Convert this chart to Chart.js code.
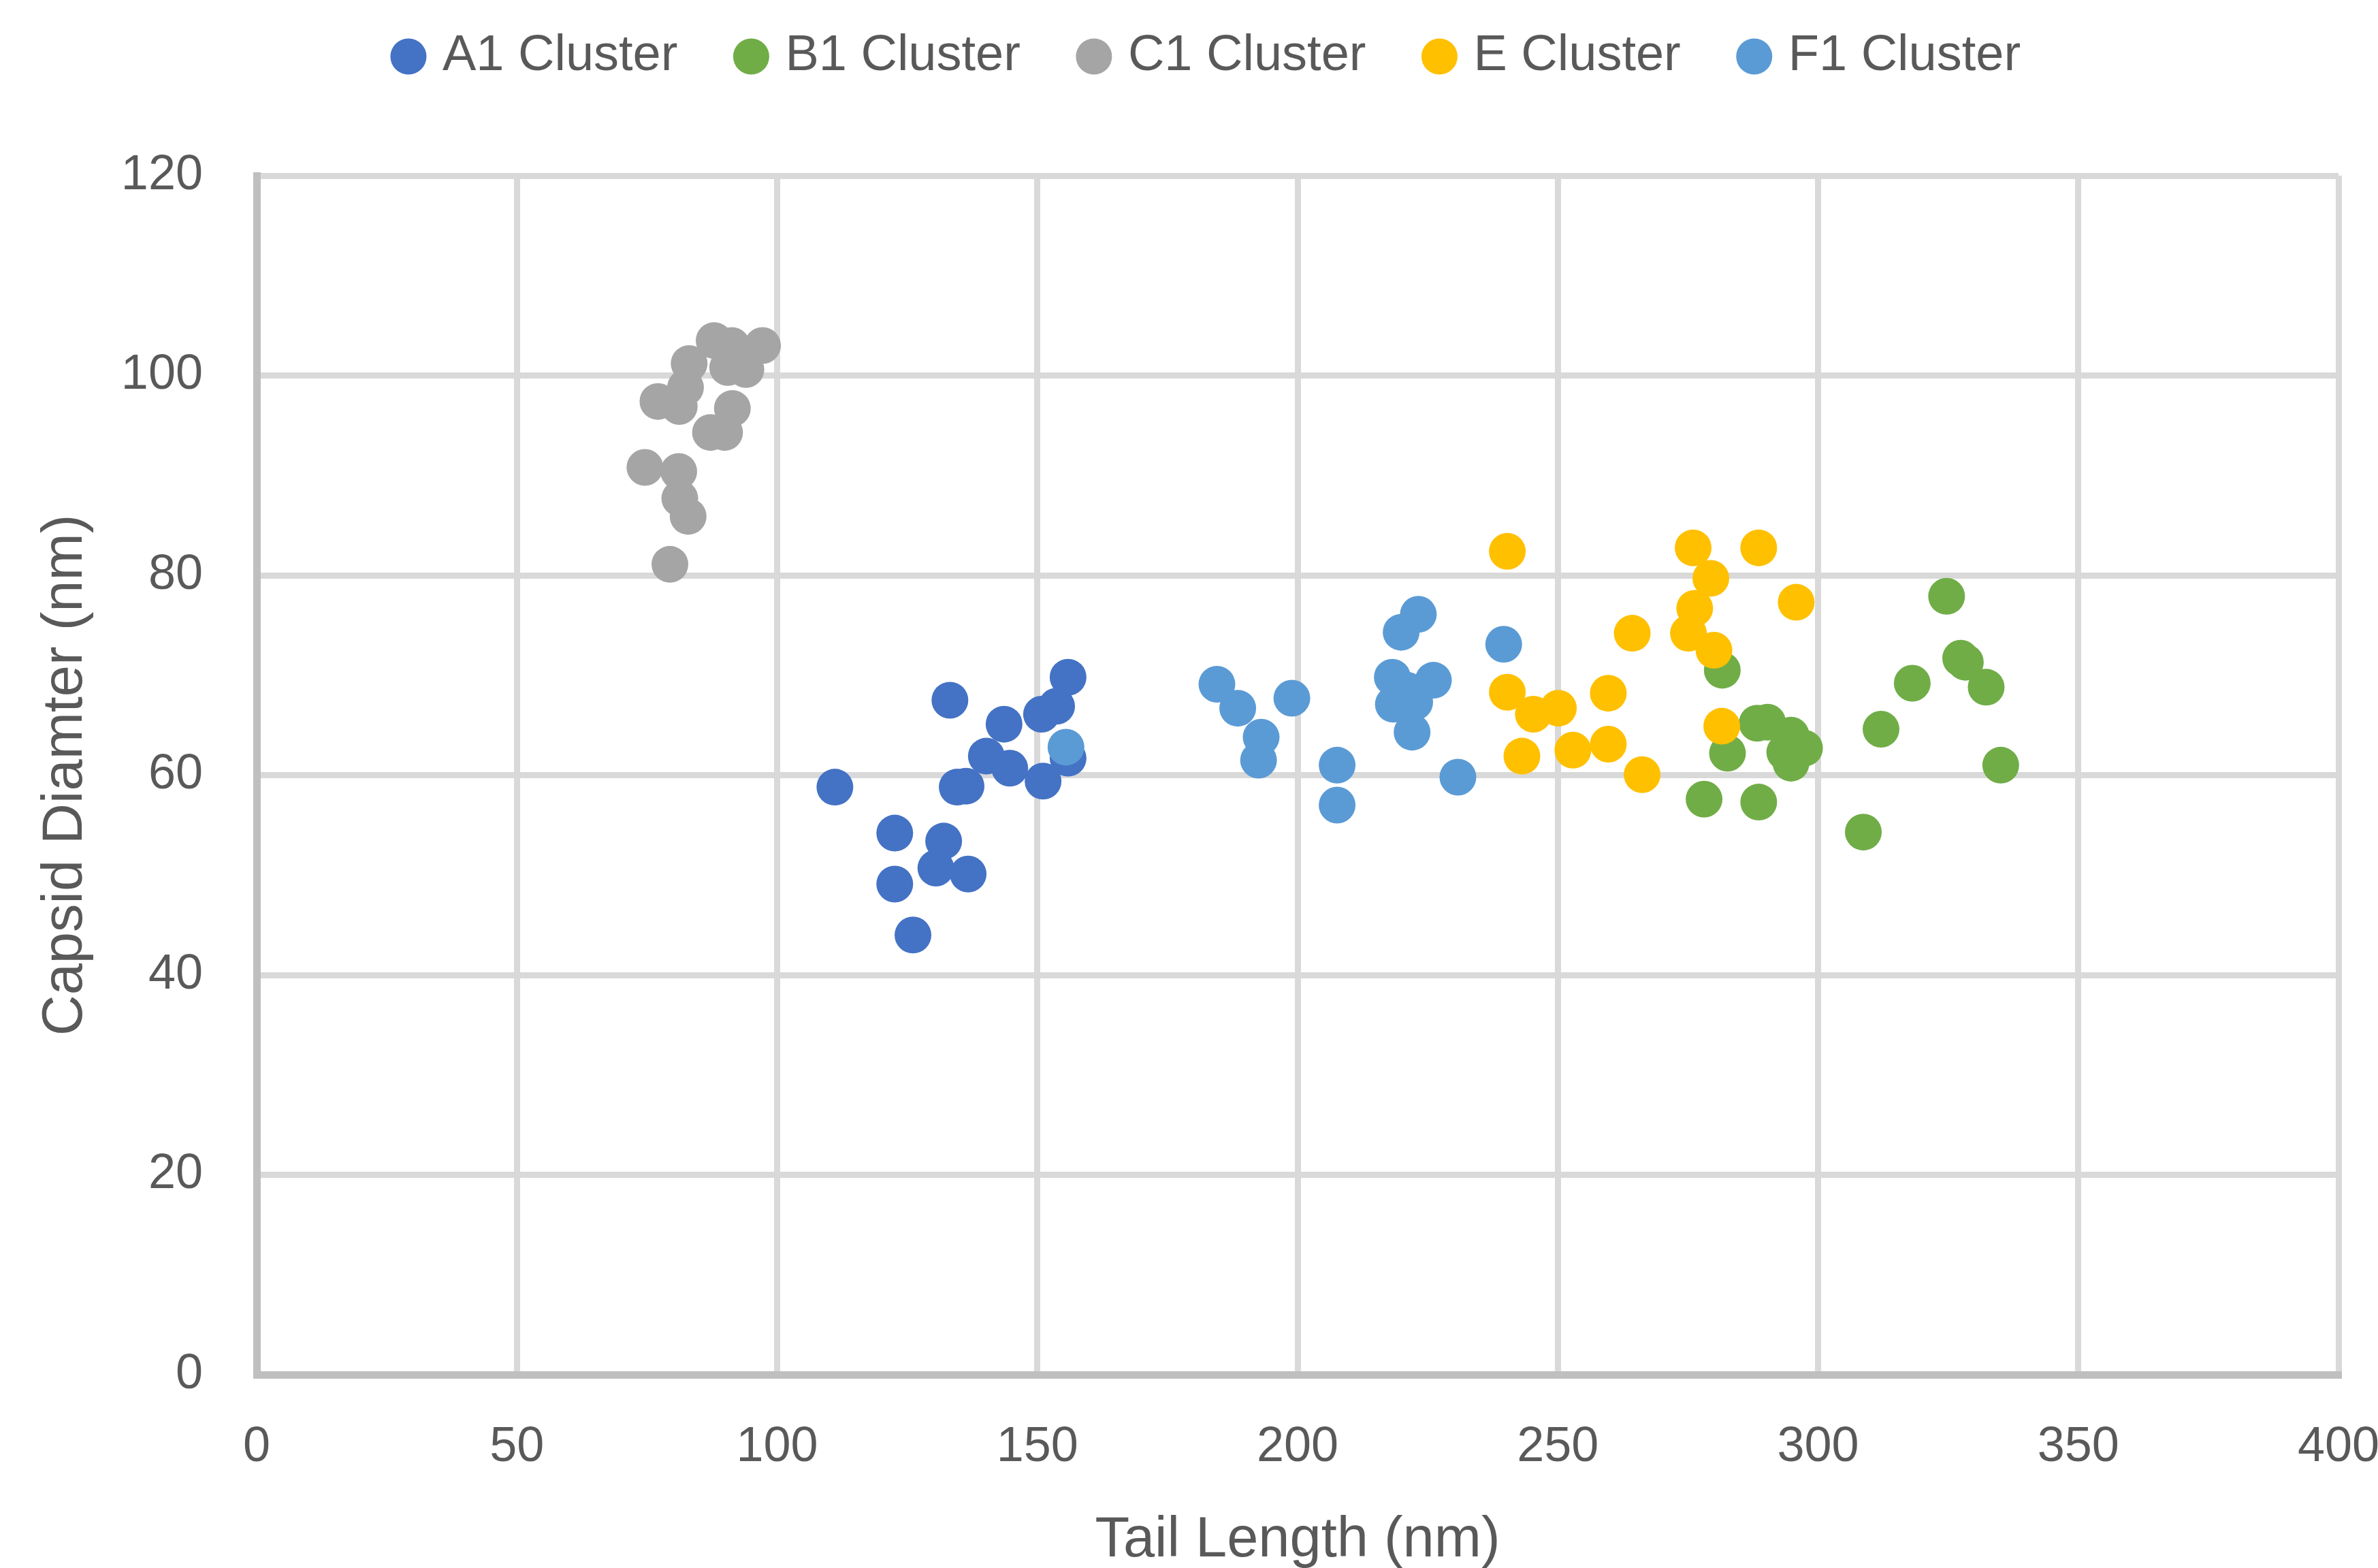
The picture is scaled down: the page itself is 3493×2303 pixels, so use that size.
<!DOCTYPE html>
<html>
<head>
<meta charset="utf-8">
<script src="https://cdn.jsdelivr.net/npm/chart.js@4.4.1/dist/chart.umd.min.js"></script>
<style>
  html, body { margin: 0; padding: 0; background: #fff; }
  canvas { display: block; }
</style>
</head>
<body>
<canvas id="myChart" width="3493" height="2303"></canvas>
<script>
// values: [tail length, capsid diameter]
const a1Cluster = [
  [111.1, 58.8], [133.2, 67.5], [143.6, 65.1], [140.2, 61.9], [144.7, 60.7],
  [134.6, 58.8], [136.3, 58.9], [150.8, 66.1], [153.7, 66.9], [155.9, 69.8],
  [151.1, 59.4], [155.9, 61.7], [122.6, 54.2], [132.0, 53.4], [130.5, 50.7],
  [136.7, 50.1], [122.6, 49.1], [126.1, 44.0],
];
const b1Cluster = [
  [281.6, 70.5], [324.7, 77.9], [327.4, 71.7], [328.3, 71.3], [318.1, 69.2],
  [332.3, 68.8], [312.1, 64.6], [335.1, 61.0], [288.3, 65.2], [290.3, 65.3],
  [294.8, 64.0], [297.4, 62.7], [293.6, 62.3], [294.8, 61.2], [282.6, 62.2],
  [278.1, 57.6], [288.6, 57.3], [308.7, 54.3],
];
const c1Cluster = [
  [87.9, 103.5], [91.3, 103.0], [97.2, 103.0], [83.1, 101.2], [90.5, 100.8],
  [94.0, 100.6], [82.4, 98.8], [77.1, 97.4], [81.2, 96.9], [91.4, 96.7],
  [87.2, 94.3], [89.9, 94.3], [74.6, 90.8], [81.1, 90.4], [81.3, 87.7],
  [82.9, 85.9], [79.4, 81.1],
];
const eCluster = [
  [240.3, 82.4], [276.0, 82.75], [288.6, 82.75], [279.4, 79.7], [295.8, 77.3],
  [276.3, 76.7], [264.3, 74.2], [275.1, 74.2], [280.0, 72.5], [240.3, 68.3],
  [245.3, 66.1], [250.1, 66.7], [259.7, 68.2], [281.5, 64.9], [243.1, 61.9],
  [252.9, 62.5], [259.7, 63.1], [266.2, 60.05],
];
const f1Cluster = [
  [155.5, 62.8], [184.5, 69.1], [188.5, 66.7], [193.0, 63.8], [192.5, 61.5],
  [198.9, 67.7], [207.6, 61.0], [207.6, 57.0], [223.2, 76.1], [219.9, 74.3],
  [218.2, 69.8], [226.1, 69.5], [218.4, 67.1], [222.5, 67.3], [221.0, 68.5],
  [222.0, 64.3], [230.8, 59.8], [239.6, 73.1],
];

const seriesNames = ["A1 Cluster", "B1 Cluster", "C1 Cluster", "E Cluster", "F1 Cluster"];
const seriesColors = ["#4472C4", "#70AD47", "#A5A5A5", "#FFC000", "#5B9BD5"];
const seriesData = [a1Cluster, b1Cluster, c1Cluster, eCluster, f1Cluster];

const xTitle = "Tail Length (nm)";
const yTitle = "Capsid Diamter (nm)";

const textColor = "#595959";
const fontFamily = "'Liberation Sans', Arial, sans-serif";

// legend sits in a band of fixed height above the plot
const legendPlace = {
  id: "legendPlace",
  beforeInit(chart) {
    const fit = chart.legend.fit;
    chart.legend.fit = function () {
      fit.call(this);
      this.height = 258;
    };
  },
  afterLayout(chart) {
    chart.legend.top -= 49;
    chart.legend.left += 60;
    chart.legend.right += 60;
  },
};

const datasets = seriesNames.map((name, i) => ({
  label: name,
  data: seriesData[i].map((p) => ({ x: p[0], y: p[1] })),
  backgroundColor: seriesColors[i],
  borderColor: seriesColors[i],
  borderWidth: 0,
  pointRadius: 27,
  pointHoverRadius: 27,
  pointStyle: "circle",
  order: seriesNames.length - i, // later series drawn on top, like Excel
}));

var ctx = document.getElementById("myChart").getContext("2d");
var chart = new Chart(ctx, {
  type: "scatter",
  data: { datasets: datasets },
  plugins: [legendPlace],
  options: {
    animation: false,
    responsive: false,
    devicePixelRatio: 1,
    layout: { padding: { top: 0, left: 0, right: 58, bottom: 0 } },
    plugins: {
      legend: {
        position: "top",
        labels: {
          usePointStyle: true,
          boxWidth: 26,
          boxHeight: 37.5,
          padding: 95,
          color: textColor,
          font: { family: fontFamily, size: 74 },
          sort: (a, b) => a.datasetIndex - b.datasetIndex,
        },
      },
      tooltip: { enabled: false },
    },
    scales: {
      x: {
        type: "linear",
        min: 0,
        max: 400,
        ticks: {
          stepSize: 50,
          padding: 64,
          color: textColor,
          font: { family: fontFamily, size: 72 },
        },
        grid: { color: "#D9D9D9", lineWidth: 9, drawTicks: false },
        border: { color: "#BFBFBF", width: 11 },
        title: {
          display: true,
          text: xTitle,
          color: textColor,
          padding: 0,
          font: { family: fontFamily, size: 83, lineHeight: 0.95 },
        },
        afterFit(scale) {
          scale.height = 284;
          scale.paddingLeft = 0;
          scale.paddingRight = 0;
        },
      },
      y: {
        min: 0,
        max: 120,
        ticks: {
          stepSize: 20,
          padding: 79,
          color: textColor,
          font: { family: fontFamily, size: 72 },
        },
        grid: { color: "#D9D9D9", lineWidth: 9, drawTicks: false },
        border: { color: "#BFBFBF", width: 11 },
        title: {
          display: true,
          text: yTitle,
          color: textColor,
          padding: 0,
          font: { family: fontFamily, size: 83, lineHeight: 2.34 },
        },
        afterFit(scale) {
          scale.width = 377;
        },
      },
    },
  },
});
</script>
</body>
</html>
